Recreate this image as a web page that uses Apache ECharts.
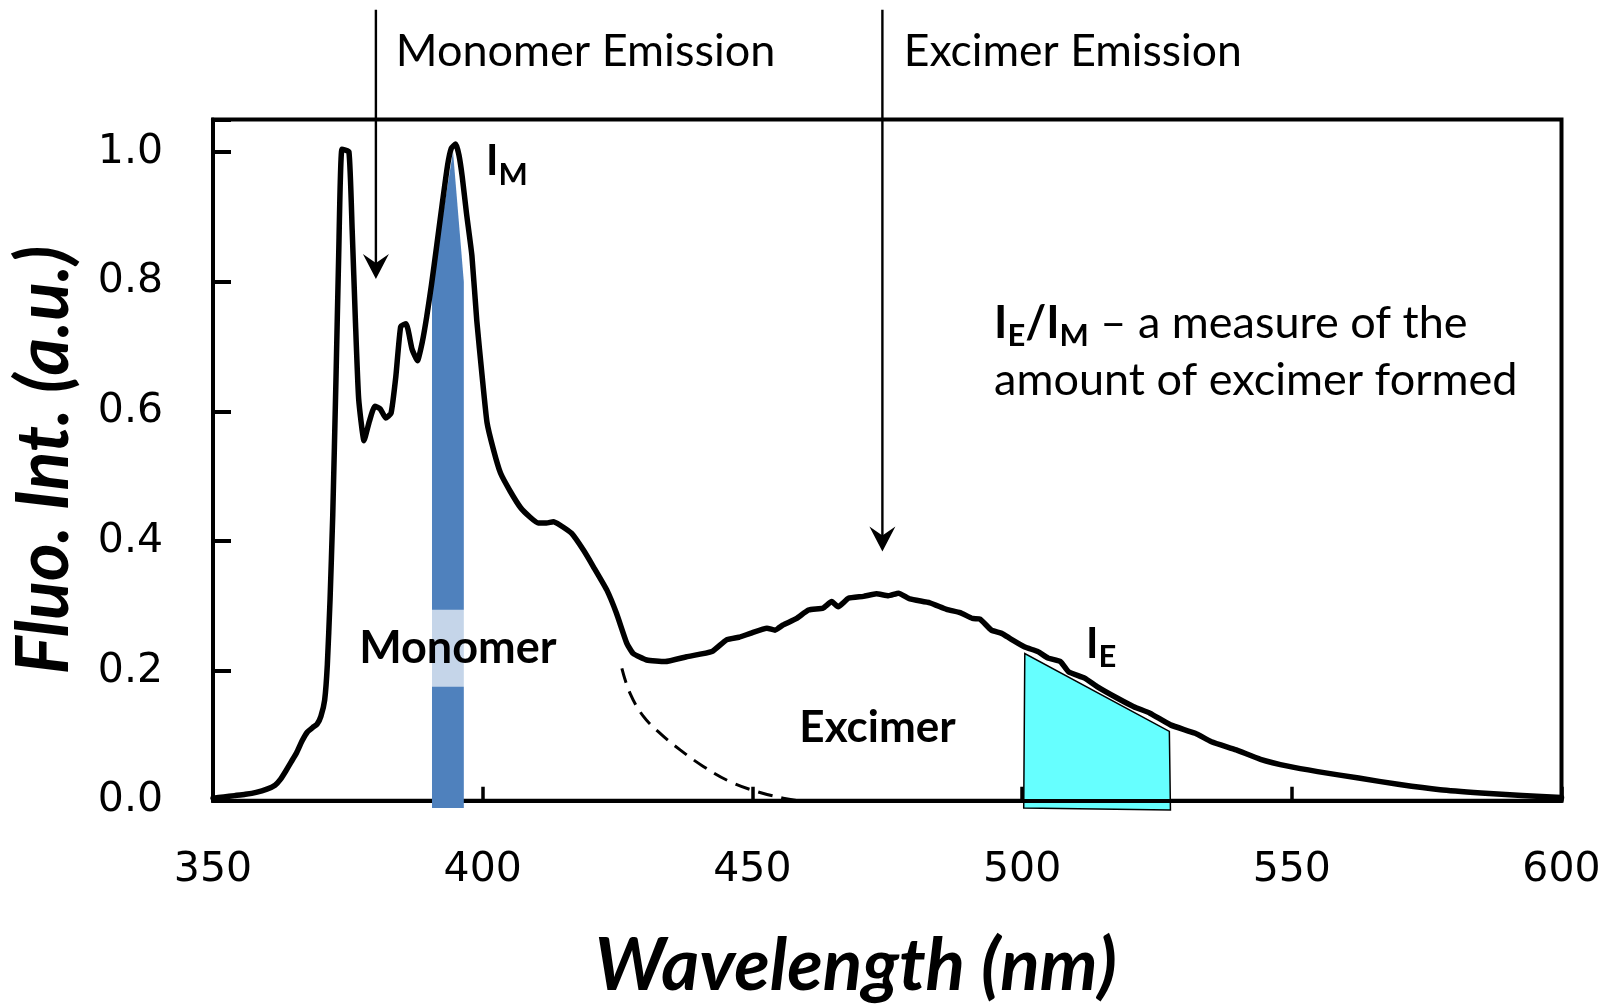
<!DOCTYPE html>
<html>
<head>
<meta charset="utf-8">
<script src="https://cdn.jsdelivr.net/npm/echarts@6/dist/echarts.min.js"></script>
<style>
  html, body { margin: 0; padding: 0; background: #ffffff; }
  #chart { width: 1614px; height: 1007px; }
</style>
</head>
<body>
<div id="chart"></div>
<script>
// Fluorescence spectrum: wavelength (nm) and normalised intensity (a.u.)
const wavelength = [
  350.0, 352.0, 354.0, 356.0, 358.0, 360.0, 361.5, 362.5, 363.5, 364.5,
  365.5, 366.5, 367.5, 368.5, 369.3, 370.0, 370.7, 371.2, 371.7, 372.2,
  372.8, 373.3, 373.9, 375.2, 375.8, 376.4, 377.0, 378.0, 379.0, 380.0,
  381.0, 382.0, 383.0, 383.9, 384.8, 385.8, 386.9, 387.9, 388.8, 389.6,
  390.5, 391.5, 392.5, 393.5, 394.2, 395.0, 395.6, 396.2, 397.0, 398.0,
  398.9, 399.9, 400.8, 402.0, 403.3, 405.1, 407.0, 408.8, 410.3, 411.8,
  413.1, 414.3, 416.5, 418.7, 420.5, 423.0, 424.8, 426.7, 427.9, 430.4,
  433.8, 437.8, 442.5, 445.2, 447.5, 449.6, 452.7, 454.2, 455.7, 458.2,
  460.4, 463.1, 464.7, 465.9, 467.8, 470.6, 473.0, 475.2, 477.1, 479.2,
  482.9, 486.0, 488.5, 490.8, 492.2, 494.3, 496.2, 497.8, 500.5, 502.9,
  504.8, 507.1, 508.6, 511.6, 513.9, 517.7, 520.7, 523.7, 527.5, 532.1,
  535.1, 539.7, 544.2, 549.5, 554.8, 562.4, 570.0, 577.5, 585.1, 592.7,
  600.0
];
const intensity = [
  0.004, 0.006, 0.008, 0.010, 0.013, 0.018, 0.024, 0.033, 0.046, 0.060,
  0.074, 0.092, 0.106, 0.113, 0.118, 0.130, 0.155, 0.210, 0.310, 0.440,
  0.650, 0.840, 1.004, 1.000, 0.880, 0.740, 0.620, 0.555, 0.585, 0.608,
  0.604, 0.590, 0.597, 0.654, 0.731, 0.735, 0.696, 0.678, 0.707, 0.745,
  0.795, 0.857, 0.920, 0.980, 1.006, 1.012, 0.995, 0.962, 0.905, 0.840,
  0.740, 0.654, 0.583, 0.541, 0.505, 0.477, 0.452, 0.437, 0.428, 0.428,
  0.430, 0.425, 0.412, 0.386, 0.361, 0.325, 0.289, 0.243, 0.227, 0.217,
  0.2145, 0.222, 0.230, 0.248, 0.252, 0.258, 0.266, 0.263, 0.271, 0.281,
  0.294, 0.297, 0.307, 0.299, 0.312, 0.315, 0.319, 0.316, 0.320, 0.311,
  0.305, 0.295, 0.290, 0.281, 0.280, 0.263, 0.258, 0.250, 0.237, 0.230,
  0.220, 0.2145, 0.199, 0.189, 0.176, 0.158, 0.145, 0.135, 0.117, 0.104,
  0.091, 0.0785, 0.064, 0.053, 0.045, 0.035, 0.025, 0.017, 0.012, 0.008,
  0.005
];

// Extrapolated tail of the monomer band underneath the excimer band
const monomerTailWavelength = [425.8, 427.3, 429.8, 432.9, 436.6, 440.9, 445.8, 450.8, 455.7, 458.2];
const monomerTailIntensity  = [0.204, 0.166, 0.130, 0.104, 0.0785, 0.053, 0.0297, 0.0143, 0.004, 0.0005];

// Integration window for I_M (monomer peak)
const monomerWindowWavelength = [390.6, 390.6, 394.5, 396.5, 396.5];
const monomerWindowIntensity  = [-0.011, 0.80, 1.00, 0.80, -0.011];

// Integration window for I_E (excimer band)
const excimerWindowWavelength = [500.3, 500.5, 527.3, 527.5];
const excimerWindowIntensity  = [-0.011, 0.227, 0.107, -0.014];

// Arrows marking the emission bands: [wavelength, start intensity, tip intensity]
const monomerArrow = [380.2, 1.219, 0.804];
const excimerArrow = [474.1, 1.219, 0.384];

// Axis ticks
const xTicks = [350, 400, 450, 500, 550, 600];
const yTicks = [0.0, 0.2, 0.4, 0.6, 0.8, 1.0];

const TEXT_FONT = 'Lato, "Open Sans", "Noto Sans", sans-serif';
const TICK_FONT = '"DejaVu Sans", Verdana, sans-serif';

const spectrum = wavelength.map((w, i) => [w, intensity[i]]);
const monomerTail = monomerTailWavelength.map((w, i) => [w, monomerTailIntensity[i]]);

function polygonPoints(api, xs, ys) {
  return xs.map((x, i) => api.coord([x, ys[i]]));
}

function arrowElements(api, arrow) {
  const top = api.coord([arrow[0], arrow[1]]);
  const tip = api.coord([arrow[0], arrow[2]]);
  const x = tip[0], y = tip[1];
  return [
    { type: 'line', shape: { x1: top[0], y1: top[1], x2: x, y2: y - 14 },
      style: { stroke: '#000', lineWidth: 2.4 } },
    { type: 'polygon',
      shape: { points: [[x, y], [x - 13, y - 25], [x, y - 16], [x + 13, y - 25]] },
      style: { fill: '#000' } }
  ];
}

function subscriptRich(size, subSize) {
  return {
    b: { fontFamily: TEXT_FONT, fontWeight: 'bold', fontSize: size, lineHeight: 57, fill: '#000' },
    s: { fontFamily: TEXT_FONT, fontWeight: 'bold', fontSize: subSize, lineHeight: 29, verticalAlign: 'bottom', fill: '#000' },
    n: { fontFamily: TEXT_FONT, fontSize: size, lineHeight: 57, fill: '#000' }
  };
}

const chart = echarts.init(document.getElementById('chart'), null, { renderer: 'canvas' });

chart.setOption({
  animation: false,
  backgroundColor: '#ffffff',
  grid: {
    left: 213, right: 52.5, top: 119.4, bottom: 206.2,
    show: true, borderColor: '#000', borderWidth: 4,
    containLabel: false, outerBoundsMode: 'none'
  },
  xAxis: {
    type: 'value',
    min: xTicks[0], max: xTicks[xTicks.length - 1], interval: xTicks[1] - xTicks[0],
    z: 10,
    axisLine: { show: true, onZero: false, lineStyle: { color: '#000', width: 4 } },
    axisTick: { show: true, inside: true, length: 14, lineStyle: { color: '#000', width: 3.5 } },
    axisLabel: { margin: 49, color: '#000', fontFamily: TICK_FONT, fontSize: 41 },
    splitLine: { show: false },
    name: 'Wavelength (nm)',
    nameLocation: 'middle',
    nameGap: 129,
    nameTextStyle: {
      fontFamily: TEXT_FONT, fontWeight: 'bold', fontStyle: 'italic', fontSize: 73,
      color: '#000', padding: [0, 63, 0, 0]
    }
  },
  yAxis: {
    type: 'value',
    min: 0, max: 1.05, interval: yTicks[1] - yTicks[0],
    z: 10,
    axisLine: { show: true, onZero: false, lineStyle: { color: '#000', width: 4 } },
    axisTick: { show: true, inside: true, length: 18, lineStyle: { color: '#000', width: 4 } },
    axisLabel: {
      margin: 50, color: '#000', fontFamily: TICK_FONT, fontSize: 41,
      formatter: v => yTicks.some(t => Math.abs(t - v) < 1e-9) ? v.toFixed(1) : ''
    },
    splitLine: { show: false },
    name: 'Fluo. Int. (a.u.)',
    nameLocation: 'middle',
    nameRotate: 90,
    nameGap: 132,
    nameTextStyle: {
      fontFamily: TEXT_FONT, fontWeight: 'bold', fontStyle: 'italic', fontSize: 72, color: '#000'
    }
  },
  series: [
    {
      // I_E integration window
      type: 'custom', name: 'excimer window', z: 1, clip: false, silent: true,
      data: [0],
      renderItem: (params, api) => ({
        type: 'polygon',
        shape: { points: polygonPoints(api, excimerWindowWavelength, excimerWindowIntensity) },
        style: { fill: '#66FFFF', stroke: '#000', lineWidth: 1.5 }
      })
    },
    {
      // I_M integration window
      type: 'custom', name: 'monomer window', z: 11, clip: false, silent: true,
      data: [0],
      renderItem: (params, api) => ({
        type: 'polygon',
        shape: { points: polygonPoints(api, monomerWindowWavelength, monomerWindowIntensity) },
        style: { fill: '#4F81BD' }
      })
    },
    {
      type: 'line', name: 'monomer tail', z: 12, silent: true,
      data: monomerTail, showSymbol: false, symbol: 'none', smooth: 0.4,
      lineStyle: { color: '#000', width: 3, type: [15, 9] }
    },
    {
      type: 'line', name: 'spectrum', z: 12, silent: true,
      data: spectrum, showSymbol: false, symbol: 'none', smooth: 0.15,
      lineStyle: { color: '#000', width: 5.5, join: 'round', cap: 'round' }
    },
    {
      // Arrows and text annotations
      type: 'custom', name: 'annotations', z: 13, clip: false, silent: true,
      data: [0],
      renderItem: (params, api) => {
        const at = (x, y) => api.coord([x, y]);
        const children = [];
        children.push(...arrowElements(api, monomerArrow));
        children.push(...arrowElements(api, excimerArrow));

        const pMonoEm = at(383.9, 1.154);
        children.push({ type: 'text', x: pMonoEm[0], y: pMonoEm[1],
          style: { text: 'Monomer Emission', fontFamily: TEXT_FONT, fontSize: 45, fill: '#000',
                   align: 'left', verticalAlign: 'middle' } });
        const pExcEm = at(478.05, 1.154);
        children.push({ type: 'text', x: pExcEm[0], y: pExcEm[1],
          style: { text: 'Excimer Emission', fontFamily: TEXT_FONT, fontSize: 44.5, fill: '#000',
                   align: 'left', verticalAlign: 'middle' } });

        const pIM = at(400.6, 0.985);
        children.push({ type: 'text', x: pIM[0], y: pIM[1],
          style: { text: '{b|I}{s|M}', rich: subscriptRich(42, 31), align: 'left', verticalAlign: 'middle' } });
        const pIE = at(511.85, 0.241);
        children.push({ type: 'text', x: pIE[0], y: pIE[1],
          style: { text: '{b|I}{s|E}', rich: subscriptRich(42, 31), align: 'left', verticalAlign: 'middle' } });

        const pRatio = at(494.8, 0.692);
        children.push({ type: 'text', x: pRatio[0], y: pRatio[1],
          style: { text: '{b|I}{s|E}{b|/I}{s|M}{n| \u2013 a measure of the}\n{n|amount of excimer formed}',
                   rich: subscriptRich(45, 31), align: 'left', verticalAlign: 'middle' } });

        const pMono = at(395.4, 0.235);
        children.push({ type: 'text', x: pMono[0], y: pMono[1],
          style: { text: 'Monomer', fontFamily: TEXT_FONT, fontWeight: 'bold', fontSize: 45, lineHeight: 44,
                   fill: '#000', align: 'center', verticalAlign: 'middle',
                   backgroundColor: 'rgba(255,255,255,0.67)', padding: [17, 4, 16, 4] } });
        const pExc = at(473.2, 0.113);
        children.push({ type: 'text', x: pExc[0], y: pExc[1],
          style: { text: 'Excimer', fontFamily: TEXT_FONT, fontWeight: 'bold', fontSize: 44,
                   fill: '#000', align: 'center', verticalAlign: 'middle' } });

        return { type: 'group', children };
      }
    }
  ]
});
</script>
</body>
</html>
